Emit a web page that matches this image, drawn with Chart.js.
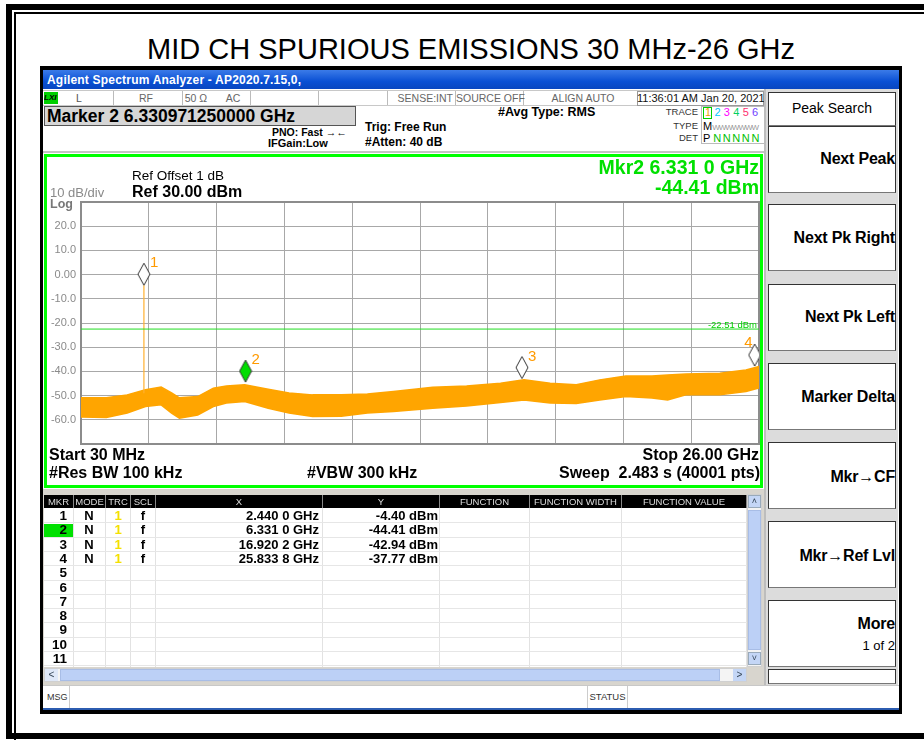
<!DOCTYPE html>
<html>
<head>
<meta charset="utf-8">
<script src="https://cdn.jsdelivr.net/npm/chart.js@4.4.1/dist/chart.umd.min.js"></script>
<style>
body{margin:0;background:#fff;font-family:"Liberation Sans",Arial,sans-serif;}
#page{position:relative;width:924px;height:740px;overflow:hidden;background:#fff;}
.a{position:absolute;white-space:nowrap;box-sizing:border-box;}
.t{position:absolute;white-space:nowrap;line-height:16px;height:16px;}
.b{font-weight:bold;}
.r{text-align:right;}
.c{text-align:center;}
.sk{position:absolute;left:768px;width:128px;background:#fff;border:1px solid #333;border-bottom-color:#777;box-sizing:border-box;}
.skt{position:absolute;right:29px;font-weight:bold;font-size:16px;line-height:16px;white-space:nowrap;letter-spacing:-0.2px;}
.hd{position:absolute;top:495px;height:13px;background:#000;color:#ddd;font-size:9.5px;line-height:13px;text-align:center;border-right:1px solid #888;box-sizing:border-box;}
</style>
</head>
<body>
<div id="page">
  <!-- page frame -->
  <div class="a" style="left:6px;top:4px;width:960px;height:735px;border:6px solid #000;"></div>
  <div class="a" style="left:14px;top:12px;width:950px;height:740px;border:2px solid #000;"></div>

  <div class="t" style="left:9px;width:924px;top:33px;height:32px;line-height:32px;font-size:29px;text-align:center;">MID CH SPURIOUS EMISSIONS 30 MHz-26 GHz</div>

  <!-- analyzer screen -->
  <div class="a" style="left:40px;top:66px;width:862px;height:648px;background:#000;"></div>
  <div class="a" style="left:43px;top:70px;width:856px;height:19px;background:linear-gradient(#3b7be8,#0a50d4 60%,#0846c0);"></div>
  <div class="t b" style="left:47px;top:72px;font-size:12px;color:#fff;letter-spacing:0.2px;">Agilent Spectrum Analyzer - AP2020.7.15,0,</div>
  <div class="a" style="left:43px;top:89px;width:856px;height:621px;background:#fff;"></div>

  <!-- status row -->
  <div class="a" style="left:43px;top:90px;width:722px;height:16px;border-top:1px solid #c8c8c8;border-bottom:1px solid #c8c8c8;"></div>
  <div class="a" style="left:44px;top:92px;width:14px;height:12px;background:#00d000;font-size:8px;line-height:12px;font-style:italic;font-weight:bold;overflow:hidden;">LXI</div>
  <div class="a" style="left:113px;top:91px;width:1px;height:14px;background:#bbb;"></div>
  <div class="a" style="left:182px;top:91px;width:1px;height:14px;background:#bbb;"></div>
  <div class="a" style="left:250px;top:91px;width:1px;height:14px;background:#bbb;"></div>
  <div class="a" style="left:318px;top:91px;width:1px;height:14px;background:#bbb;"></div>
  <div class="a" style="left:387px;top:91px;width:1px;height:14px;background:#bbb;"></div>
  <div class="a" style="left:455px;top:91px;width:1px;height:14px;background:#bbb;"></div>
  <div class="a" style="left:523px;top:91px;width:1px;height:14px;background:#bbb;"></div>
  <div class="t c" style="left:69px;width:20px;top:90px;font-size:10.5px;color:#555;">L</div>
  <div class="t c" style="left:131px;width:30px;top:90px;font-size:10.5px;color:#666;">RF</div>
  <div class="t c" style="left:181px;width:30px;top:90px;font-size:10.5px;color:#666;">50 Ω</div>
  <div class="t c" style="left:218px;width:30px;top:90px;font-size:10.5px;color:#666;">AC</div>
  <div class="t r" style="left:390px;width:63px;top:90px;font-size:10.5px;color:#666;">SENSE:INT</div>
  <div class="t c" style="left:456px;width:66px;top:90px;font-size:10.5px;color:#666;">SOURCE OFF</div>
  <div class="t c" style="left:540px;width:86px;top:90px;font-size:10.5px;color:#666;">ALIGN AUTO</div>
  <div class="a" style="left:637px;top:91px;width:127px;height:15px;border:1px solid #999;"></div>
  <div class="t c" style="left:637px;width:127px;top:90px;font-size:11px;color:#111;">11:36:01 AM Jan 20, 2021</div>

  <!-- marker readout / settings -->
  <div class="a" style="left:44px;top:106px;width:312px;height:20px;background:#d6d6d6;border:1px solid #555;"></div>
  <div class="t b" style="left:47px;top:108px;font-size:17.5px;">Marker 2 6.330971250000 GHz</div>
  <div class="t b" style="left:272px;top:124px;font-size:10.5px;">PNO: Fast <span style="font-weight:normal;">&#x2192;&#x2190;</span></div>
  <div class="t b" style="left:268px;top:135px;font-size:11px;">IFGain:Low</div>
  <div class="t b" style="left:365px;top:119px;font-size:12px;">Trig: Free Run</div>
  <div class="t b" style="left:365px;top:134px;font-size:12px;">#Atten: 40 dB</div>
  <div class="t b" style="left:498px;top:104px;font-size:12.5px;">#Avg Type: RMS</div>
  <div class="t r" style="left:650px;width:48px;top:104px;font-size:9.5px;color:#333;">TRACE</div>
  <div class="t r" style="left:650px;width:48px;top:118px;font-size:9.5px;color:#333;">TYPE</div>
  <div class="t r" style="left:650px;width:48px;top:130px;font-size:9.5px;color:#333;">DET</div>
  <div class="a" style="left:701px;top:106px;width:64px;height:38px;border:1px solid #bbb;"></div>
  <div class="a" style="left:703px;top:107px;width:9px;height:12px;border:1px solid #00d000;"></div>
  <div class="t" style="left:705px;top:104px;font-size:11px;letter-spacing:3.3px;"><span style="color:#f0a000">1</span><span style="color:#00c8ff">2</span><span style="color:#ff00ff">3</span><span style="color:#00d060">4</span><span style="color:#ff3070">5</span><span style="color:#7040ff">6</span></div>
  <div class="t" style="left:703px;top:118px;font-size:11px;">M<span style="color:#999;font-size:8px;letter-spacing:-1px;">WWWWWWW</span></div>
  <div class="t" style="left:703px;top:130px;font-size:11px;">P <span style="color:#00c000;letter-spacing:1.6px;">NNNNN</span></div>

  <div class="a" style="left:43px;top:151px;width:722px;height:2px;background:#c4c4c4;"></div>

  <!-- plot panel -->
  <div class="a" style="left:44px;top:154px;width:719px;height:334px;border:3px solid #00ff00;"></div>
  <canvas id="sa" class="a" width="713" height="328" style="left:47px;top:157px;"></canvas>
  <div class="t" style="left:132px;top:168px;font-size:13.5px;">Ref Offset 1 dB</div>
  <div class="t b" style="left:132px;top:184px;font-size:16px;">Ref 30.00 dBm</div>
  <div class="t" style="left:50px;top:185px;font-size:13px;color:#8a8a8a;">10 dB/div</div>
  <div class="t" style="left:50px;top:196px;font-size:12.5px;color:#777;font-weight:bold;">Log</div>
  <div class="t b r" style="left:500px;width:259px;top:159px;font-size:19.5px;color:#00e000;">Mkr2 6.331 0 GHz</div>
  <div class="t b r" style="left:500px;width:259px;top:179px;font-size:19.5px;color:#00e000;">-44.41 dBm</div>
  <div class="t b" style="left:49px;top:447px;font-size:16px;">Start 30 MHz</div>
  <div class="t b" style="left:49px;top:465px;font-size:16px;">#Res BW 100 kHz</div>
  <div class="t b" style="left:307px;top:465px;font-size:16px;">#VBW 300 kHz</div>
  <div class="t b r" style="left:500px;width:259px;top:447px;font-size:16px;">Stop 26.00 GHz</div>
  <div class="t b r" style="left:500px;width:260px;top:465px;font-size:16px;">Sweep&nbsp;&nbsp;2.483 s (40001 pts)</div>

  <!-- marker table -->
  <div class="a" style="left:43px;top:489px;width:722px;height:196px;background:#d8d5ce;"></div>
  <div id="tbl"></div>
  <!-- scrollbars -->
  <div class="a" style="left:747px;top:494px;width:15px;height:173px;background:#f4f4f4;border:1px solid #d0d0d0;"></div>
  <div class="a" style="left:748px;top:495px;width:13px;height:13px;background:#c4d6f6;border:1px solid #9ab;font-size:9px;line-height:11px;text-align:center;color:#345;">&#x2c4;</div>
  <div class="a" style="left:748px;top:510px;width:13px;height:140px;background:#bcd0f6;border:1px solid #a8bde6;"></div>
  <div class="a" style="left:748px;top:652px;width:13px;height:13px;background:#c4d6f6;border:1px solid #9ab;font-size:9px;line-height:11px;text-align:center;color:#345;">&#x2c5;</div>
  <div class="a" style="left:44px;top:668px;width:703px;height:14px;background:#f4f4f4;border:1px solid #d0d0d0;"></div>
  <div class="a" style="left:45px;top:669px;width:13px;height:12px;background:#dfe8f8;font-size:10px;line-height:12px;text-align:center;color:#345;">&lt;</div>
  <div class="a" style="left:60px;top:669px;width:660px;height:12px;background:#bcd0f6;border:1px solid #a8bde6;"></div>
  <div class="a" style="left:733px;top:669px;width:13px;height:12px;background:#c4d6f6;font-size:10px;line-height:12px;text-align:center;color:#345;">&gt;</div>

  <!-- status bar -->
  <div class="a" style="left:43px;top:685px;width:856px;height:23px;background:#fff;border-top:1px solid #c8c8c8;"></div>
  <div class="t" style="left:47px;top:689px;font-size:9px;color:#333;">MSG</div>
  <div class="a" style="left:69px;top:686px;width:1px;height:22px;background:#ccc;"></div>
  <div class="a" style="left:587px;top:686px;width:41px;height:22px;border-left:1px solid #ccc;border-right:1px solid #ccc;font-size:9.5px;line-height:22px;text-align:center;color:#333;">STATUS</div>
  <div class="a" style="left:43px;top:708px;width:856px;height:2px;background:#2c5cb0;"></div>

  <!-- softkeys -->
  <div class="a" style="left:764px;top:89px;width:134px;height:596px;background:#dcdcdc;border-left:2px solid #bdbdbd;"></div>
  <div class="sk" style="top:92px;height:34px;"></div>
  <div class="t c" style="left:768px;width:128px;top:100px;font-size:14px;">Peak Search</div>
  <div class="sk" style="top:126px;height:67px;"></div>
  <div class="skt" style="top:151px;">Next Peak</div>
  <div class="sk" style="top:204px;height:67px;"></div>
  <div class="skt" style="top:230px;">Next Pk Right</div>
  <div class="sk" style="top:284px;height:67px;"></div>
  <div class="skt" style="top:309px;">Next Pk Left</div>
  <div class="sk" style="top:363px;height:67px;"></div>
  <div class="skt" style="top:389px;">Marker Delta</div>
  <div class="sk" style="top:442px;height:67px;"></div>
  <div class="skt" style="top:469px;">Mkr&#x2192;CF</div>
  <div class="sk" style="top:521px;height:67px;"></div>
  <div class="skt" style="top:548px;">Mkr&#x2192;Ref Lvl</div>
  <div class="sk" style="top:600px;height:67px;"></div>
  <div class="skt" style="top:616px;">More</div>
  <div class="t r" style="left:780px;width:115px;top:638px;font-size:13px;">1 of 2</div>
  <div class="sk" style="top:669px;height:15px;"></div>
</div>

<script>
// sweep setup
const START_GHZ = 0.03;
const STOP_GHZ = 26.0;
const REF_LVL = 30;
const DB_DIV = 10;
const DISPLAY_LINE = -22.51;

// markers (from marker table)
const MKR_NUM = [1, 2, 3, 4];
const MKR_FREQ = [2.4400, 6.3310, 16.9202, 25.8338];
const MKR_AMP = [-4.40, -44.41, -42.94, -37.77];
const MKR_ACTIVE = 2;
const MKR1_SPIKE = [-4.40, -49.0];

// trace envelope: freq (GHz), upper and lower edge (dBm)
const TRACE_F = [0.03, 1.0, 1.8, 2.5, 3.1, 3.5, 3.8, 4.5, 5.1, 5.6, 6.3, 7.2, 8.0, 8.9, 10.0, 11.0,
                 12.0, 13.5, 14.8, 16.1, 17.0, 18.0, 19.0, 19.9, 20.9, 21.9, 22.5, 23.2, 24.5, 25.5, 26.0];
const TRACE_HI = [-50.9, -50.9, -49.7, -47.6, -46.5, -48.9, -50.9, -50.4, -46.9, -46.0, -45.5, -47.4, -48.9, -49.7, -49.7, -49.3,
                  -48.3, -46.5, -46.0, -44.9, -43.5, -44.9, -45.5, -43.5, -41.9, -41.9, -41.5, -41.1, -40.8, -39.4, -38.0];
const TRACE_LO = [-58.8, -59.0, -57.2, -54.5, -53.8, -57.2, -59.3, -58.0, -54.5, -53.1, -52.4, -55.2, -57.2, -58.6, -58.5, -57.2,
                  -56.6, -55.2, -54.3, -52.9, -51.8, -53.1, -53.3, -51.8, -50.4, -51.0, -51.8, -49.7, -49.7, -48.3, -46.9];

const TABLE_ROWS = 11;

// ---- marker table ----
var tbl = document.getElementById('tbl');
var cols = [
  {name:'MKR', l:44, w:30}, {name:'MODE', l:74, w:32}, {name:'TRC', l:106, w:25}, {name:'SCL', l:131, w:25},
  {name:'X', l:156, w:167}, {name:'Y', l:323, w:117}, {name:'FUNCTION', l:440, w:90},
  {name:'FUNCTION WIDTH', l:530, w:92}, {name:'FUNCTION VALUE', l:622, w:125}
];
var html = '';
html += '<div class="a" style="left:44px;top:508px;width:703px;height:159px;background:#fff;"></div>';
cols.forEach(function(c){
  html += '<div class="hd" style="left:' + c.l + 'px;width:' + c.w + 'px;">' + c.name + '</div>';
  html += '<div class="a" style="left:' + (c.l + c.w - 1) + 'px;top:508px;width:1px;height:159px;background:#e2e2e2;"></div>';
});
function fmtFreq(v){
  var s = v.toFixed(4);
  return s.slice(0, -1) + ' ' + s.slice(-1) + ' GHz';
}
for (var i = 0; i < TABLE_ROWS; i++) {
  var rowTop = 509 + i * 14.3;
  html += '<div class="a" style="left:44px;top:' + (rowTop + 13.3) + 'px;width:703px;height:1px;background:#e6e6e6;"></div>';
  var ty = rowTop - 1;
  if (i + 1 === MKR_ACTIVE) {
    html += '<div class="a" style="left:44px;top:' + (rowTop + 1) + 'px;width:29px;height:13px;background:#00e000;"></div>';
  }
  html += '<div class="t b r" style="left:44px;width:23px;top:' + ty + 'px;font-size:13.5px;">' + (i + 1) + '</div>';
  if (i < MKR_NUM.length) {
    html += '<div class="t b c" style="left:74px;width:30px;top:' + ty + 'px;font-size:13px;">N</div>';
    html += '<div class="t b c" style="left:106px;width:24px;top:' + ty + 'px;font-size:13px;color:#f4e000;">1</div>';
    html += '<div class="t b c" style="left:131px;width:24px;top:' + ty + 'px;font-size:13px;">f</div>';
    html += '<div class="t b r" style="left:156px;width:163px;top:' + ty + 'px;font-size:13px;">' + fmtFreq(MKR_FREQ[i]) + '</div>';
    html += '<div class="t b r" style="left:323px;width:115px;top:' + ty + 'px;font-size:13px;">' + MKR_AMP[i].toFixed(2) + ' dBm</div>';
  }
}
tbl.innerHTML = html;

// ---- marker diamonds ----
function diamond(fill){
  var cv = document.createElement('canvas');
  cv.width = 14; cv.height = 46;
  var g = cv.getContext('2d');
  g.beginPath();
  g.moveTo(7, 1); g.lineTo(13, 12); g.lineTo(7, 23); g.lineTo(1, 12); g.closePath();
  g.fillStyle = fill; g.fill();
  g.strokeStyle = '#333'; g.lineWidth = 1; g.stroke();
  return cv;
}
var dOff = diamond('#ffffff');
var dOn = diamond('#00dd00');

var gridX = [];
for (var k = 0; k <= 10; k++) gridX.push({value: START_GHZ + k * (STOP_GHZ - START_GHZ) / 10});

const saPlugin = {
  id: 'saPlugin',
  beforeDatasetsDraw(chart){
    var c = chart.ctx, a = chart.chartArea;
    c.save();
    c.strokeStyle = '#8c8c8c'; c.lineWidth = 2;
    c.strokeRect(a.left, a.top, a.right - a.left, a.bottom - a.top);
    c.restore();
  },
  afterDatasetsDraw(chart){
    var c = chart.ctx, xs = chart.scales.x, ys = chart.scales.y, a = chart.chartArea;
    c.save();
    // display line value
    c.font = '9.5px "Liberation Sans", Arial';
    c.fillStyle = '#00d000'; c.textAlign = 'right'; c.textBaseline = 'bottom';
    c.fillText(DISPLAY_LINE.toFixed(2) + ' dBm', a.right - 2, ys.getPixelForValue(DISPLAY_LINE) + 1);
    // marker numbers
    c.font = '15px "Liberation Sans", Arial';
    c.fillStyle = '#ff9a00'; c.textBaseline = 'middle';
    MKR_NUM.forEach(function(n, i){
      var px = xs.getPixelForValue(MKR_FREQ[i]);
      var py = ys.getPixelForValue(MKR_AMP[i]);
      if (px > a.right - 20) { c.textAlign = 'right'; c.fillText(String(n), px - 2, py - 23); }
      else { c.textAlign = 'left'; c.fillText(String(n), px + 6, py - 22); }
    });
    c.restore();
  }
};

var pts = function(xa, ya){ return xa.map(function(x, i){ return {x: x, y: ya[i]}; }); };

new Chart(document.getElementById('sa'), {
  type: 'line',
  data: {
    datasets: [
      {
        label: 'markers',
        data: pts(MKR_FREQ, MKR_AMP),
        showLine: false,
        pointStyle: MKR_NUM.map(function(n){ return n === MKR_ACTIVE ? dOn : dOff; }),
        pointRadius: 7
      },
      {
        label: 'display line',
        data: [{x: START_GHZ, y: DISPLAY_LINE}, {x: STOP_GHZ, y: DISPLAY_LINE}],
        borderColor: '#22dd22', borderWidth: 1, pointRadius: 0
      },
      {
        label: 'mkr1 spike',
        data: [{x: MKR_FREQ[0], y: MKR1_SPIKE[0]}, {x: MKR_FREQ[0], y: MKR1_SPIKE[1]}],
        borderColor: '#ffb030', borderWidth: 1.2, pointRadius: 0
      },
      {
        label: 'trace hi',
        data: pts(TRACE_F, TRACE_HI),
        borderColor: '#ffa500', backgroundColor: '#ffa500', borderWidth: 1.5,
        fill: '+1', pointRadius: 0, tension: 0
      },
      {
        label: 'trace lo',
        data: pts(TRACE_F, TRACE_LO),
        borderColor: '#ffa500', borderWidth: 1.5, pointRadius: 0, tension: 0
      }
    ]
  },
  options: {
    responsive: false,
    animation: false,
    devicePixelRatio: 1,
    layout: { autoPadding: false, padding: { left: 0, right: 1, top: 45, bottom: 41 } },
    plugins: { legend: { display: false }, tooltip: { enabled: false } },
    scales: {
      x: {
        type: 'linear', min: START_GHZ, max: STOP_GHZ,
        afterBuildTicks: function(s){ s.ticks = gridX; },
        ticks: { display: false },
        grid: { color: '#a8a8a8', lineWidth: 1, drawTicks: false },
        border: { display: false }
      },
      y: {
        min: REF_LVL - 10 * DB_DIV, max: REF_LVL,
        afterFit: function(s){ s.width = 34; },
        ticks: {
          stepSize: DB_DIV, padding: 5, color: '#8a8a8a',
          font: { size: 11, family: '"Liberation Sans", Arial' },
          callback: function(v){
            if (v >= REF_LVL || v <= REF_LVL - 10 * DB_DIV) return '';
            return v === 0 ? '0.00' : v.toFixed(1);
          }
        },
        grid: { color: '#a8a8a8', lineWidth: 1, drawTicks: false },
        border: { display: false }
      }
    }
  },
  plugins: [saPlugin]
});
</script>
</body>
</html>
